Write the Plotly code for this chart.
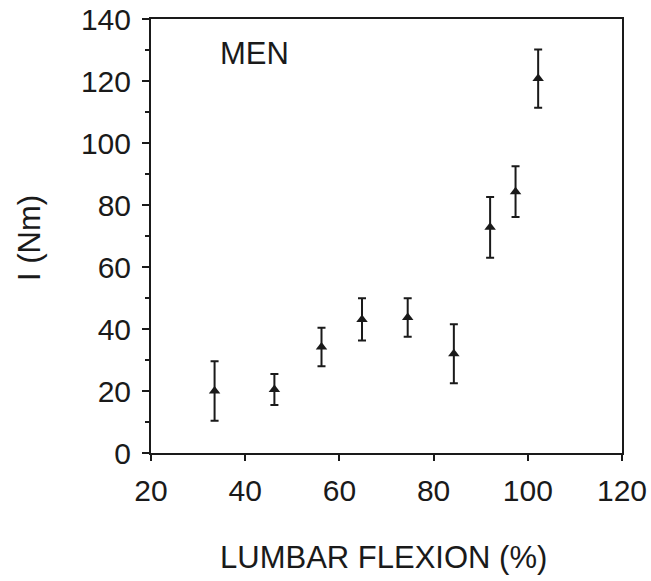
import plotly.graph_objects as go

flexion = [33.5, 46.2, 56.2, 64.8, 74.5, 84.3, 92.0, 97.4, 102.2]
moment = [20.0, 20.5, 34.2, 43.1, 43.7, 32.0, 72.8, 84.3, 120.8]
sd = [9.6, 5.0, 6.2, 6.8, 6.2, 9.5, 9.8, 8.2, 9.4]

x_ticks = [20, 40, 60, 80, 100, 120]
y_ticks = [0, 20, 40, 60, 80, 100, 120, 140]

font_family = "Liberation Sans, Arial, sans-serif"
ink = "#1a1a1a"

W, H = 651, 581
L, R, T, B = 151, 29, 19, 128
pw, ph = W - L - R, H - T - B


def px_to_paper(px, py):
    return (px - L) / pw, (H - B - py) / ph


fig = go.Figure()
fig.add_trace(go.Scatter(
    x=flexion, y=moment, mode="markers",
    marker=dict(symbol="triangle-up", size=10, color=ink),
    error_y=dict(type="data", array=sd, visible=True, color=ink, thickness=2, width=4),
    showlegend=False,
))

men_x, men_y = px_to_paper(254, 53)
xt_x, xt_y = px_to_paper(383, 557)
yt_x, yt_y = px_to_paper(29, 238)

fig.update_layout(
    width=W, height=H,
    margin=dict(l=L, r=R, t=T, b=B),
    paper_bgcolor="white", plot_bgcolor="white",
    font=dict(family=font_family, size=30, color=ink),
    xaxis=dict(
        range=[20, 120], tickvals=x_ticks, ticktext=[str(v) for v in x_ticks],
        showline=True, linecolor=ink, linewidth=2, mirror=True,
        ticks="outside", ticklen=6, tickwidth=2, tickcolor=ink,
        ticklabelstandoff=4,
        showgrid=False, zeroline=False, automargin=False,
        tickfont=dict(size=30),
    ),
    yaxis=dict(
        range=[0, 140], tickvals=y_ticks, ticktext=[str(v) for v in y_ticks],
        showline=True, linecolor=ink, linewidth=2, mirror=True,
        ticks="outside", ticklen=7, tickwidth=2, tickcolor=ink,
        minor=dict(ticks="outside", ticklen=4, tickwidth=2, tickcolor=ink, dtick=10),
        ticklabelstandoff=5,
        showgrid=False, zeroline=False, automargin=False,
        tickfont=dict(size=30),
    ),
    annotations=[
        dict(text="MEN", x=men_x, y=men_y, xref="paper", yref="paper",
             showarrow=False, xanchor="center", yanchor="middle", font=dict(size=31)),
        dict(text="LUMBAR FLEXION (%)", x=xt_x, y=xt_y, xref="paper", yref="paper",
             showarrow=False, xanchor="center", yanchor="middle", font=dict(size=31)),
        dict(text="I (Nm)", x=yt_x, y=yt_y, xref="paper", yref="paper",
             showarrow=False, xanchor="center", yanchor="middle", textangle=-90,
             font=dict(size=31)),
    ],
)

fig.write_html("out.html", config={"displayModeBar": False},
               post_script="document.body.style.margin='0';document.body.style.overflow='hidden';")
